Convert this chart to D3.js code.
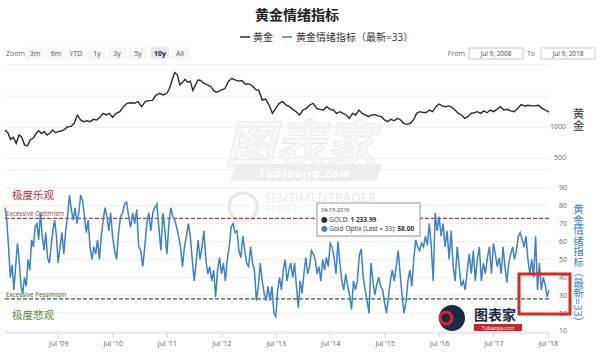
<!DOCTYPE html>
<html>
<head>
<meta charset="utf-8">
<style>
  body { margin: 0; background: #fff; }
  svg { font-family: "Open Sans", "Noto Sans CJK SC", sans-serif; }
  .grid line { stroke: #eeeeee; stroke-width: 1px; }
  .ylab { font-size: 7px; fill: #666; }
  .xaxis path, .xaxis line { stroke: #ccd6eb; }
  .xaxis text { font-size: 7px; fill: #666; font-family: "Open Sans", sans-serif; }
  .btn text { font-size: 7px; fill: #555; }
  .gold-line { fill: none; stroke: #2b2b2b; stroke-width: 1.4px; }
  .optix-line { fill: none; stroke: #3f80c6; stroke-width: 1.5px; }
</style>
</head>
<body>
<svg id="chart" width="600" height="361"></svg>
<script src="https://d3js.org/d3.v7.min.js"></script>
<script>
// segment bounds (Jul to Jul)
const bounds = ["2008-07-09", "2009-07-01", "2010-07-01", "2011-07-01", "2012-07-01", "2013-07-01",
                "2014-07-01", "2015-07-01", "2016-07-01", "2017-07-01", "2018-07-09"];

// gold price, one array per year
const gold0809 = [952, 908, 801, 834, 737, 871, 834, 710, 694, 790, 818, 887, 941, 898, 925, 871, 898, 952, 908];
const gold0910 = [925, 935, 962, 1005, 1010, 1059, 1190, 1113, 1086, 1100, 1086, 1124, 1113, 1156, 1220, 1194, 1220];
const gold1011 = [1156, 1220, 1247, 1328, 1382, 1390, 1382, 1409, 1328, 1409, 1425, 1430, 1516, 1543, 1516];
const gold1112 = [1543, 1624, 1758, 1880, 1840, 1680, 1720, 1770, 1720, 1740, 1590, 1680, 1758, 1750, 1710, 1690, 1670, 1650, 1586, 1560, 1575];
const gold1213 = [1597, 1620, 1731, 1785, 1760, 1740, 1750, 1694, 1694, 1670, 1608, 1590, 1435, 1450, 1355, 1220];
const gold1314 = [1300, 1382, 1409, 1355, 1328, 1285, 1247, 1194, 1274, 1301, 1355, 1382, 1301, 1285, 1274, 1328];
const gold1415 = [1285, 1274, 1220, 1247, 1220, 1194, 1140, 1220, 1194, 1274, 1220, 1194, 1167, 1194, 1200, 1180, 1167];
const gold1516 = [1113, 1086, 1125, 1100, 1140, 1113, 1059, 1043, 1059, 1113, 1220, 1247, 1235, 1234, 1274, 1247, 1328];
const gold1617 = [1371, 1340, 1328, 1340, 1318, 1274, 1220, 1194, 1140, 1167, 1220, 1230, 1247, 1220, 1260, 1230, 1274];
const gold1718 = [1247, 1285, 1328, 1274, 1285, 1260, 1247, 1301, 1360, 1340, 1350, 1340, 1340, 1350, 1301, 1274, 1240];

// gold optix sentiment, one array per year
const optix0809 = [79, 72, 57, 40, 47, 33, 46, 59, 50, 35, 31, 40, 35, 50, 44, 61, 57, 68, 70, 61, 76, 63, 55, 65, 51, 48, 57, 66, 72, 63];
const optix0910 = [48, 57, 65, 53, 66, 74, 86, 78, 72, 79, 70, 76, 86, 83, 74, 65, 72, 57, 50, 57, 53, 61, 50, 63, 72, 79, 74, 66, 76];
const optix1011 = [63, 55, 50, 65, 74, 76, 81, 82, 74, 68, 76, 70, 78, 57, 55, 46, 57, 70, 76, 66, 76, 79, 81, 68, 55, 76, 66];
const optix1112 = [53, 70, 79, 74, 72, 68, 63, 57, 46, 57, 63, 70, 63, 50, 38, 48, 61, 50, 57, 66, 50, 42, 46, 38, 44, 29, 44, 51];
const optix1213 = [42, 48, 38, 50, 57, 68, 70, 65, 66, 55, 51, 63, 55, 48, 46, 57, 48, 44, 27, 35, 48, 38, 31, 27, 35, 27, 35, 20];
const optix1314 = [18, 33, 40, 33, 44, 50, 38, 44, 48, 40, 48, 35, 23, 38, 31, 42, 51, 42, 46, 55, 53, 50, 42, 46, 38, 50, 44, 51, 46];
const optix1415 = [59, 57, 51, 42, 60, 48, 38, 33, 42, 35, 30, 22, 38, 33, 38, 52, 56, 40, 33, 27, 20, 48, 38, 30, 36, 40, 35, 33];
const optix1516 = [26, 20, 29, 38, 44, 38, 46, 55, 42, 30, 20, 26, 38, 44, 35, 50, 61, 57, 55, 59, 57, 63, 58, 70, 57, 38, 76, 66];
const optix1617 = [74, 63, 70, 57, 66, 50, 66, 46, 38, 57, 46, 35, 38, 33, 44, 53, 42, 55, 38, 50, 57, 38, 48, 42, 51, 57, 42];
const optix1718 = [59, 53, 46, 51, 42, 57, 46, 37, 48, 53, 57, 50, 55, 63, 65, 61, 57, 63, 50, 42, 50, 40, 63, 33, 48, 33, 40, 36, 29, 33];

const goldTicks = [500, 1000, 1500, 2000];
const goldLabels = [500, 1000];
const optixTicks = [10, 20, 30, 40, 50, 60, 70, 80, 90, 100];
const optixLabels = [10, 20, 30, 40, 50, 60, 70, 80, 90];
const optimism = 73, pessimism = 28;
const zoomButtons = ["3m", "6m", "YTD", "1y", "3y", "5y", "10y", "All"];

const parse = d3.timeParse("%Y-%m-%d");
const B = bounds.map(parse);

function spread(chunks) {
  const out = [];
  chunks.forEach((vals, k) => {
    const t0 = +B[k], t1 = +B[k + 1];
    const n = k === chunks.length - 1 ? vals.length - 1 : vals.length;
    vals.forEach((v, i) => out.push({ date: new Date(t0 + (t1 - t0) * i / n), value: v }));
  });
  return out;
}

const goldData = spread([gold0809, gold0910, gold1011, gold1112, gold1213, gold1314, gold1415, gold1516, gold1617, gold1718]);
const optixData = spread([optix0809, optix0910, optix1011, optix1112, optix1213, optix1314, optix1415, optix1516, optix1617, optix1718]);

const svg = d3.select("#chart");
const x = d3.scaleTime().domain([B[0], B[B.length - 1]]).range([5, 549]);
const yGold = d3.scaleLinear().domain([500, 2000]).range([158, 65]);
const yOptix = d3.scaleLinear().domain([10, 100]).range([331, 170]);

// watermarks (faint)
const wm = svg.append("g").attr("opacity", 0.5);
wm.append("text").attr("x", 300).attr("y", 162).attr("text-anchor", "middle")
  .attr("font-size", 50).attr("font-weight", "bold").attr("font-style", "italic")
  .attr("fill", "#f0f0f0").attr("stroke", "#d4d4d4").attr("stroke-width", 1).text("图表家");
wm.append("path").attr("d", "M236,164 L382,164 L376,181 L230,181 Z").attr("fill", "#dcdcdc");
wm.append("text").attr("x", 305).attr("y", 177.5).attr("text-anchor", "middle")
  .attr("font-size", 12).attr("font-weight", "bold").attr("font-style", "italic")
  .attr("fill", "#fff").attr("letter-spacing", 1).text("Tubiaojia.com");
wm.append("circle").attr("cx", 243).attr("cy", 207).attr("r", 14)
  .attr("fill", "none").attr("stroke", "#d0d0d0").attr("stroke-width", 3);
wm.append("text").attr("x", 264).attr("y", 202).attr("font-size", 13)
  .attr("fill", "#d0d0d0").text("SENTIMENTRADER");
wm.append("text").attr("x", 265).attr("y", 211).attr("font-size", 7)
  .attr("fill", "#d8d8d8").attr("letter-spacing", 2).text("Analysis");

// gridlines
const grid = svg.append("g").attr("class", "grid");
grid.selectAll(".gg").data(goldTicks).enter().append("line")
  .attr("x1", 5).attr("x2", 549).attr("y1", d => yGold(d)).attr("y2", d => yGold(d));
grid.selectAll(".og").data(optixTicks).enter().append("line")
  .attr("x1", 5).attr("x2", 549).attr("y1", d => yOptix(d)).attr("y2", d => yOptix(d));

// y labels
svg.selectAll(".gl").data(goldLabels).enter().append("text").attr("class", "ylab")
  .attr("x", 566).attr("y", d => yGold(d)).attr("dy", "0.35em").attr("text-anchor", "end").text(d => d);
svg.selectAll(".ol").data(optixLabels).enter().append("text").attr("class", "ylab")
  .attr("x", 567).attr("y", d => yOptix(d)).attr("dy", "0.35em").attr("text-anchor", "end").text(d => d);

// threshold lines
svg.append("line").attr("x1", 5).attr("x2", 549).attr("y1", yOptix(optimism)).attr("y2", yOptix(optimism))
  .attr("stroke", "#c0392b").attr("stroke-width", 1.2).attr("stroke-dasharray", "4,2");
svg.append("line").attr("x1", 5).attr("x2", 549).attr("y1", yOptix(pessimism)).attr("y2", yOptix(pessimism))
  .attr("stroke", "#2f6b3a").attr("stroke-width", 1.2).attr("stroke-dasharray", "4,2");
svg.append("text").attr("x", 6).attr("y", yOptix(optimism) - 2).attr("font-size", 6.3)
  .attr("fill", "#a23a3a").text("Excessive Optimism");
svg.append("text").attr("x", 6).attr("y", yOptix(pessimism) - 2).attr("font-size", 6.3)
  .attr("fill", "#3d6b2a").text("Excessive Pessimism");
svg.append("text").attr("x", 12).attr("y", 199).attr("font-size", 10.5)
  .attr("fill", "#b2323a").text("极度乐观");
svg.append("text").attr("x", 12).attr("y", 319).attr("font-size", 10.5)
  .attr("fill", "#5e8a3c").text("极度悲观");

// lines
const goldLine = d3.line().x(d => x(d.date)).y(d => yGold(d.value));
const optixLine = d3.line().x(d => x(d.date)).y(d => yOptix(d.value));
svg.append("path").datum(goldData).attr("class", "gold-line").attr("d", goldLine);
svg.append("path").datum(optixData).attr("class", "optix-line").attr("d", optixLine);

// x axis
const xTicks = d3.range(2009, 2019).map(y => new Date(y, 6, 1));
svg.append("g").attr("class", "xaxis").attr("transform", "translate(0,333)")
  .call(d3.axisBottom(x).tickValues(xTicks).tickSize(4).tickFormat(d3.timeFormat("%b '%y")))
  .call(g => g.select(".domain").attr("d", "M5,0H549"))
  .call(g => g.selectAll("text").attr("dy", "0.9em"));

// title & legend
svg.append("text").attr("x", 297).attr("y", 20).attr("text-anchor", "middle")
  .attr("font-size", 14).attr("font-weight", "bold").attr("fill", "#222").text("黄金情绪指标");
const legend = svg.append("g").attr("font-size", 10).attr("fill", "#333");
legend.append("line").attr("x1", 240).attr("x2", 250).attr("y1", 37).attr("y2", 37).attr("stroke", "#2b2b2b").attr("stroke-width", 1.5);
legend.append("text").attr("x", 253).attr("y", 40.5).text("黄金");
legend.append("line").attr("x1", 282).attr("x2", 292).attr("y1", 37).attr("y2", 37).attr("stroke", "#3f80c6").attr("stroke-width", 1.5);
legend.append("text").attr("x", 296).attr("y", 40.5).text("黄金情绪指标（最新=33）");

// range selector
svg.append("text").attr("x", 6).attr("y", 55.5).attr("font-size", 7).attr("fill", "#666").text("Zoom");
const btnX = [35, 56, 76, 97, 117, 138, 160, 180];
const btn = svg.selectAll(".btn").data(zoomButtons).enter().append("g").attr("class", "btn")
  .attr("transform", (d, i) => `translate(${btnX[i]},53)`);
btn.append("rect").attr("x", -9).attr("y", -6).attr("width", 18).attr("height", 12)
  .attr("fill", d => d === "10y" ? "#e6ebf5" : "#f7f7f7");
btn.append("text").attr("text-anchor", "middle").attr("y", 2.5)
  .attr("font-weight", d => d === "10y" ? "bold" : "normal")
  .style("fill", d => d === "10y" ? "#222" : "#555").text(d => d);

svg.append("text").attr("x", 465).attr("y", 55.5).attr("text-anchor", "end").attr("font-size", 7).attr("fill", "#666").text("From");
svg.append("rect").attr("x", 469).attr("y", 48).attr("width", 54).attr("height", 11).attr("fill", "#fff").attr("stroke", "#cccccc");
svg.append("text").attr("x", 496).attr("y", 55.5).attr("text-anchor", "middle").attr("font-size", 6.5).attr("fill", "#444").text("Jul 9, 2008");
svg.append("text").attr("x", 535).attr("y", 55.5).attr("text-anchor", "end").attr("font-size", 7).attr("fill", "#666").text("To");
svg.append("rect").attr("x", 541).attr("y", 48).attr("width", 54).attr("height", 11).attr("fill", "#fff").attr("stroke", "#cccccc");
svg.append("text").attr("x", 568).attr("y", 55.5).attr("text-anchor", "middle").attr("font-size", 6.5).attr("fill", "#444").text("Jul 9, 2018");

// axis titles (vertical)
svg.append("text").attr("x", 578).attr("y", 108).attr("font-size", 11.5).attr("fill", "#333")
  .style("writing-mode", "vertical-rl").text("黄金");
svg.append("text").attr("x", 578).attr("y", 204).attr("font-size", 10.5).attr("fill", "#3f80c6")
  .style("writing-mode", "vertical-rl").text("黄金情绪指标（最新=33）");

// tooltip
const tip = svg.append("g").attr("transform", "translate(317,203)");
tip.append("rect").attr("x", 1.5).attr("y", 1.5).attr("width", 103).attr("height", 33).attr("fill", "#000").attr("opacity", 0.06);
tip.append("rect").attr("width", 103).attr("height", 33).attr("fill", "#fff").attr("stroke", "#999");
tip.append("text").attr("x", 4).attr("y", 9).attr("font-size", 5.5).attr("fill", "#333").text("04-15-2016");
const t1 = tip.append("text").attr("x", 4).attr("y", 19).attr("font-size", 6.5).attr("fill", "#333");
t1.append("tspan").attr("fill", "#2b2b2b").text("● ");
t1.append("tspan").text("GOLD: ");
t1.append("tspan").attr("font-weight", "bold").text("1 233.99");
const t2 = tip.append("text").attr("x", 4).attr("y", 28).attr("font-size", 6.5).attr("fill", "#333");
t2.append("tspan").attr("fill", "#3f80c6").text("● ");
t2.append("tspan").text("Gold Optix (Last = 33): ");
t2.append("tspan").attr("font-weight", "bold").text("58.00");

// bottom logo
const logo = svg.append("g");
logo.append("circle").attr("cx", 452).attr("cy", 318).attr("r", 13).attr("fill", "#1d2a44");
logo.append("circle").attr("cx", 446).attr("cy", 318).attr("r", 6).attr("fill", "none").attr("stroke", "#d0282e").attr("stroke-width", 3);
logo.append("text").attr("x", 474).attr("y", 320).attr("font-size", 14).attr("font-weight", "bold").attr("fill", "#1d2a44").text("图表家");
logo.append("rect").attr("x", 474).attr("y", 324).attr("width", 48).attr("height", 7).attr("fill", "#c8262c");
logo.append("text").attr("x", 498).attr("y", 329.5).attr("text-anchor", "middle").attr("font-size", 5).attr("fill", "#fff").text("Tubiaojia.com");

// red highlight box
svg.append("rect").attr("x", 519).attr("y", 274).attr("width", 51).attr("height", 40)
  .attr("fill", "none").attr("stroke", "#d42a2a").attr("stroke-width", 3);
</script>
</body>
</html>
